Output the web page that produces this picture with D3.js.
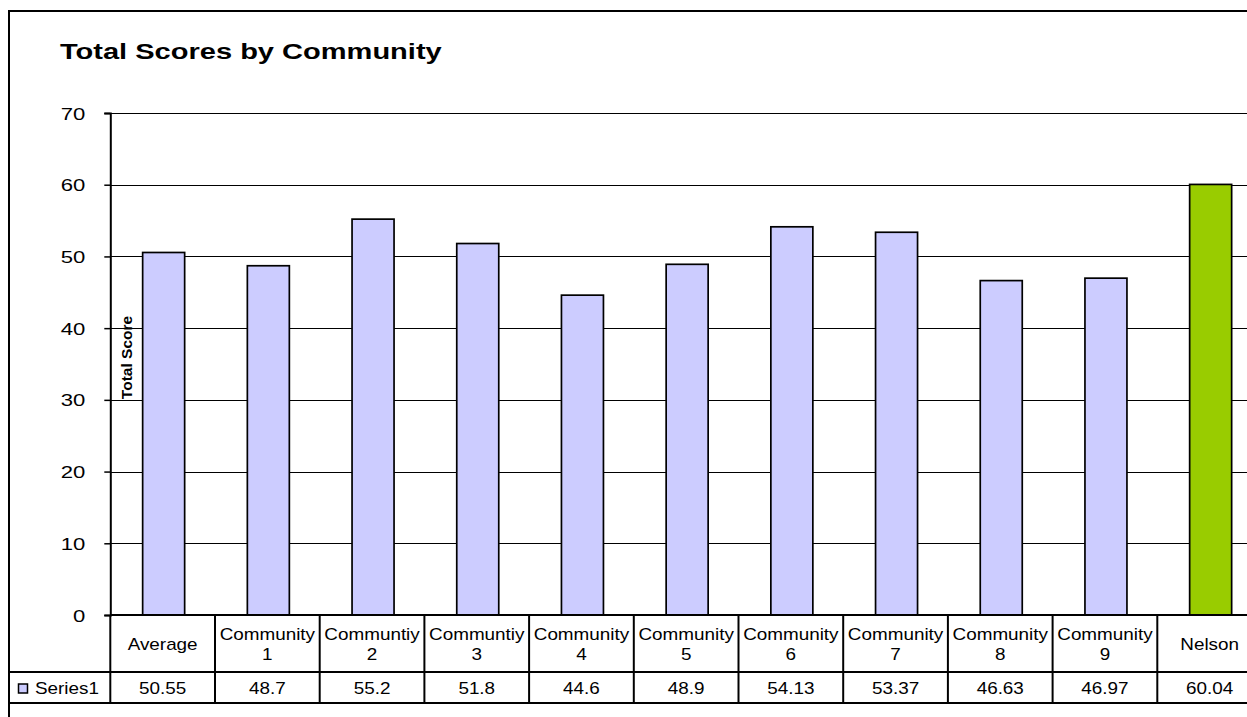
<!DOCTYPE html>
<html>
<head>
<meta charset="utf-8">
<script src="https://cdn.jsdelivr.net/npm/d3@7"></script>
<style>
  html, body { margin: 0; padding: 0; background: #fff; }
  svg { display: block; font-family: "Liberation Sans", Arial, sans-serif; }
</style>
</head>
<body>
<script>
// ---- data ----
const title = "Total Scores by Community";
const yAxisTitle = "Total Score";
const seriesName = "Series1";
const categories = [
  ["Average"],
  ["Community", "1"],
  ["Communtiy", "2"],
  ["Communtiy", "3"],
  ["Community", "4"],
  ["Community", "5"],
  ["Community", "6"],
  ["Community", "7"],
  ["Community", "8"],
  ["Community", "9"],
  ["Nelson"]
];
const values = [50.55, 48.7, 55.2, 51.8, 44.6, 48.9, 54.13, 53.37, 46.63, 46.97, 60.04];
const valueLabels = ["50.55", "48.7", "55.2", "51.8", "44.6", "48.9", "54.13", "53.37", "46.63", "46.97", "60.04"];
const highlight = ["Nelson"];
const yTicks = [0, 10, 20, 30, 40, 50, 60, 70];

// ---- layout ----
const W = 1247, H = 717;
const plotL = 110.3, bandW = 104.7;
const plotR = plotL + bandW * categories.length;
const plotT = 113, plotB = 615;
const headerB = 672, valueB = 703;
const frameL = 9, frameT = 11;

const svg = d3.select("body").append("svg").attr("width", W).attr("height", H);
svg.append("rect").attr("width", W).attr("height", H).attr("fill", "#fff");

// outer frame (right/bottom outside window)
svg.append("path")
  .attr("d", `M${frameL},${H + 5} V${frameT} H${W + 5}`)
  .attr("fill", "none").attr("stroke", "#000").attr("stroke-width", 2);

const keys = categories.map(c => c.join(" "));
const x = d3.scaleBand().domain(keys).range([plotL, plotR]).paddingInner(0).paddingOuter(0);
const y = d3.scaleLinear().domain([0, 70]).range([plotB, plotT]);

// gridlines
svg.append("g").selectAll("line").data(yTicks.filter(t => t > 0)).join("line")
  .attr("x1", plotL).attr("x2", plotR)
  .attr("y1", d => Math.round(y(d)) + 0.5).attr("y2", d => Math.round(y(d)) + 0.5)
  .attr("stroke", "#000").attr("stroke-width", 1.2);

// bars
const barW = 42;
svg.append("g").selectAll("rect").data(values).join("rect")
  .attr("x", (d, i) => x(keys[i]) + (bandW - barW) / 2 + 1)
  .attr("y", d => y(d))
  .attr("width", barW)
  .attr("height", d => plotB - y(d))
  .attr("fill", (d, i) => highlight.includes(keys[i]) ? "#99cc00" : "#ccccff")
  .attr("stroke", "#000").attr("stroke-width", 1.7);

// y axis
const yAxis = d3.axisLeft(y).tickValues(yTicks).tickSize(6).tickPadding(13.2).tickFormat(d3.format("d"));
const gy = svg.append("g").attr("transform", `translate(${plotL},0)`).call(yAxis);
gy.select(".domain").attr("stroke", "#000").attr("stroke-width", 2);
gy.selectAll(".tick line").attr("stroke", "#000").attr("stroke-width", 1.5);
gy.selectAll(".tick text")
  .attr("font-size", 17).attr("fill", "#000")
  .attr("font-family", "Liberation Sans, Arial, sans-serif")
  .attr("dy", "0.36em")
  .attr("transform", "scale(1.3,1)");

// axis line at 0 extends (category axis)
svg.append("line").attr("x1", plotL).attr("x2", plotR).attr("y1", plotB).attr("y2", plotB)
  .attr("stroke", "#000").attr("stroke-width", 2);

// y axis title
svg.append("text")
  .attr("transform", `translate(132,${(315 + 400) / 2}) rotate(-90)`)
  .attr("text-anchor", "middle")
  .attr("font-size", 15.5).attr("font-weight", "bold").attr("fill", "#000")
  .text(yAxisTitle);

// title
svg.append("text")
  .attr("transform", `translate(60,59) scale(1.32,1)`)
  .attr("font-size", 22).attr("font-weight", "bold").attr("fill", "#000")
  .text(title);

// ---- data table ----
const tbl = svg.append("g");
tbl.append("line").attr("x1", frameL).attr("x2", plotR).attr("y1", headerB).attr("y2", headerB)
  .attr("stroke", "#000").attr("stroke-width", 2);
tbl.append("line").attr("x1", frameL).attr("x2", plotR).attr("y1", valueB).attr("y2", valueB)
  .attr("stroke", "#000").attr("stroke-width", 2);
const bounds = keys.map(k => x(k)).concat([plotR]);
tbl.selectAll("line.v").data(bounds).join("line").attr("class", "v")
  .attr("x1", d => d).attr("x2", d => d)
  .attr("y1", plotB).attr("y2", valueB)
  .attr("stroke", "#000").attr("stroke-width", 2);

// header labels
const headerMid = (plotB + headerB) / 2 + 1;
categories.forEach((lines, i) => {
  const cx = x(keys[i]) + bandW / 2;
  const lh = 20;
  lines.forEach((ln, j) => {
    const cy = headerMid + (j - (lines.length - 1) / 2) * lh;
    tbl.append("text")
      .attr("transform", `translate(${cx},${cy}) scale(1.18,1)`)
      .attr("text-anchor", "middle").attr("dy", "0.36em")
      .attr("font-size", 16).attr("fill", "#000")
      .text(ln);
  });
});

// values row
const valMid = (headerB + valueB) / 2 + 1;
valueLabels.forEach((v, i) => {
  const cx = x(keys[i]) + bandW / 2;
  tbl.append("text")
    .attr("transform", `translate(${cx},${valMid}) scale(1.18,1)`)
    .attr("text-anchor", "middle").attr("dy", "0.36em")
    .attr("font-size", 16).attr("fill", "#000")
    .text(v);
});

// legend key in table
tbl.append("rect").attr("x", 18.5).attr("y", 684).attr("width", 9).attr("height", 9)
  .attr("fill", "#ccccff").attr("stroke", "#000").attr("stroke-width", 1.5);
tbl.append("text")
  .attr("transform", `translate(35,${valMid}) scale(1.18,1)`)
  .attr("dy", "0.36em").attr("font-size", 16).attr("fill", "#000")
  .text(seriesName);
</script>
</body>
</html>
